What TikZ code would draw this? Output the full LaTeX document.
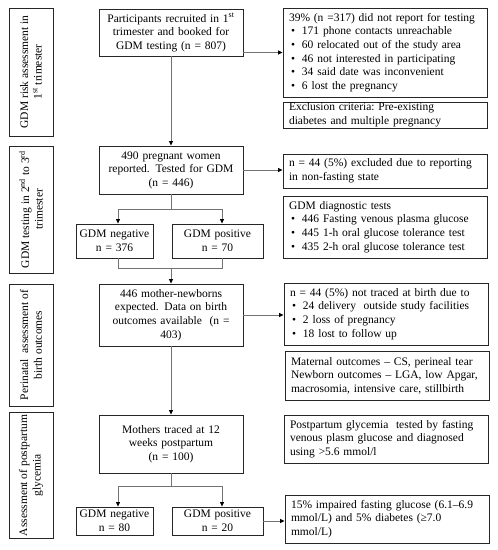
\documentclass[tikz,border=0pt]{standalone}
\usepackage{fontspec}
\setmainfont{Liberation Serif}
\usetikzlibrary{arrows.meta}
\newcommand{\itm}{\hspace*{2pt}\makebox[11pt][l]{\textbullet}}
\begin{document}
\begin{tikzpicture}[x=1pt,y=-1pt,
  base/.style={draw=black!85, line width=0.9pt, inner ysep=0pt, font=\fontsize{11.5}{13.6}\selectfont},
  mbox/.style={base, inner xsep=3pt, align=center},
  rbox/.style={base, inner xsep=6pt, align=left, text width=192pt, minimum height=#1},
  lbox/.style={base, inner xsep=2pt, align=center, rotate=90, minimum height=44pt, minimum width=#1},
  conn/.style={draw=black!55, line width=0.8pt},
  arr/.style={conn, -{Triangle[length=4.5pt,width=4pt,fill=black,color=black]}}]
\useasboundingbox (0,0) rectangle (498,550);

% left stage labels
\node[lbox=128pt] (L1) at (31,72) {GDM risk assessment in\\1\textsuperscript{st} trimester};
\node[lbox=127pt] (L2) at (31,209.5) {GDM testing in 2\textsuperscript{nd} to 3\textsuperscript{rd}\\trimester};
\node[lbox=122pt] (L3) at (31,345) {Perinatal\ \ assessment of\\birth outcomes};
\node[lbox=119pt] (L4) at (31,475.5) {Assessment of postpartum\\glycemia};

% main column
\node[mbox, text width=138pt, minimum height=47pt] (A) at (171,32.5) {Participants recruited in 1\textsuperscript{st}\\trimester and booked for\\GDM testing (n = 807)};
\node[mbox, text width=138pt, minimum height=48pt] (B) at (171,170) {490 pregnant women\\reported. Tested for GDM\\(n = 446)};
\node[mbox, text width=71pt, minimum height=34pt] (N1) at (114.5,241) {GDM negative\\n = 376};
\node[mbox, text width=85pt, minimum height=34pt] (P1) at (217.5,241) {GDM positive\\n = 70};
\node[mbox, text width=138pt, minimum height=62pt] (C) at (171,315) {446 mother-newborns\\expected. Data on birth\\outcomes available\ \ (n =\\403)};
\node[mbox, text width=138pt, minimum height=58pt] (D) at (171,444) {Mothers traced at 12\\weeks postpartum\\(n = 100)};
\node[mbox, text width=71pt, minimum height=28pt] (N2) at (114.5,521) {GDM negative\\n = 80};
\node[mbox, text width=85pt, minimum height=28pt] (P2) at (217.5,521) {GDM positive\\n = 20};

% right column
\node[rbox=89pt] (R1) at (385,52.5) {39\% (n =317) did not report for testing\\
\itm 171 phone contacts unreachable\\
\itm 60 relocated out of the study area\\
\itm 46 not interested in participating\\
\itm 34 said date was inconvenient\\
\itm 6 lost the pregnancy};
\node[rbox=26pt] (R2) at (385,115) {Exclusion criteria:\ Pre-existing\\diabetes and multiple pregnancy};
\node[rbox=34pt] (R3) at (385,171) {n = 44 (5\%) excluded due to reporting\\in non-fasting state};
\node[rbox=62pt] (R4) at (385,227) {GDM diagnostic tests\\
\itm 446 Fasting venous plasma glucose\\
\itm 445 1-h oral glucose tolerance test\\
\itm 435 2-h oral glucose tolerance test};
\node[rbox=62pt] (R5) at (386,314) {n = 44 (5\%) not traced at birth due to\\
\itm 24 delivery\ \ outside study facilities\\
\itm 2 loss of pregnancy\\
\itm 18 lost to follow up};
\node[rbox=49pt] (R6) at (387,375.5) {Maternal outcomes -- CS, perineal tear\\Newborn outcomes -- LGA, low Apgar,\\macrosomia, intensive care, stillbirth};
\node[rbox=48pt] (R7) at (386,439) {Postpartum glycemia\ \ tested by fasting\\venous plasm glucose and diagnosed\\using >5.6 mmol/l};
\node[rbox=48pt] (R8) at (387,519) {15\% impaired fasting glucose (6.1--6.9\\mmol/L) and 5\% diabetes (≥7.0\\mmol/L)};

% connectors
\draw[arr] (A.south) -- (B.north);
\draw[arr] (R1.west -| A.east) -- (R1.west);
\draw[arr] (B.east) -- (B.east -| R3.west);
\draw[conn] (B.south) -- ++(0,15) coordinate (j1);
\draw[arr] (j1) -| ([xshift=3.5pt]N1.north);
\draw[arr] (j1) -| ([xshift=4.5pt]P1.north);
\draw[conn] ([xshift=3.5pt]N1.south) |- ([yshift=15pt]C.north);
\draw[conn] ([xshift=4.5pt]P1.south) |- ([yshift=15pt]C.north);
\draw[arr] ([yshift=15pt]C.north) -- (C.north);
\draw[arr] (C.east) -- (C.east -| R5.west);
\draw[arr] (C.south) -- (D.north);
\draw[conn] (D.south) -- ++(0,13) coordinate (j2);
\draw[arr] (j2) -| ([xshift=3.5pt]N2.north);
\draw[arr] (j2) -| ([xshift=4.5pt]P2.north);
\draw[arr] (P2.east) -- (P2.east -| R8.west);
\end{tikzpicture}
\end{document}
